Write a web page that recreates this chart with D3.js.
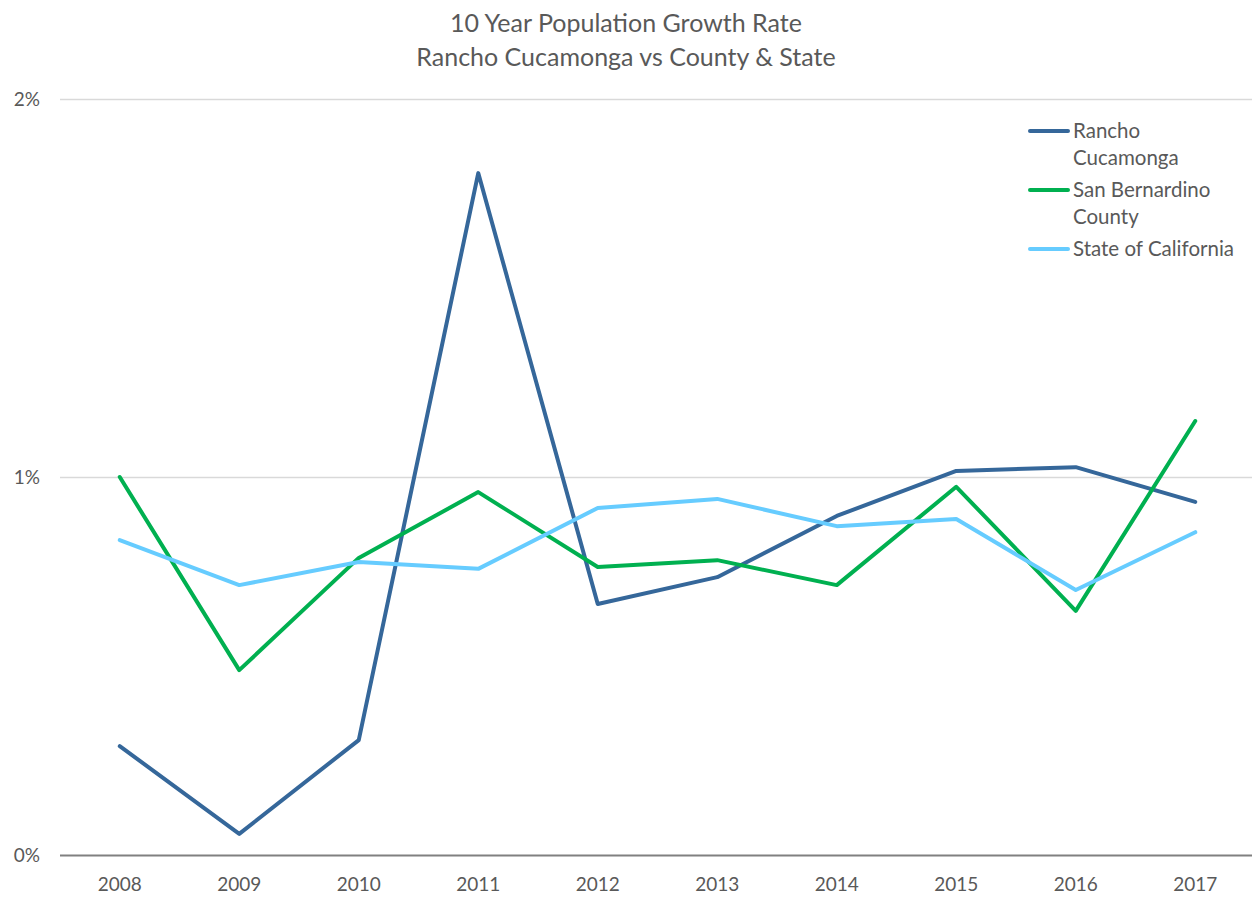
<!DOCTYPE html>
<html>
<head>
<meta charset="utf-8">
<script src="https://cdn.jsdelivr.net/npm/d3@7"></script>
<style>
    body { margin: 0; background: #fff; }
    text { font-family: "Gill Sans", Lato, "Open Sans", sans-serif; fill: #595959; }
    .chartTitle { font-size: 25px; }
    .tickText { font-size: 19px; }
    .legendText { font-size: 20.5px; }
</style>
</head>
<body>
<div id="chart" style="width:1252px;height:897px;">
    <svg width="1252" height="897"></svg>
</div>
<script>

// data
const years = ["2008", "2009", "2010", "2011", "2012", "2013", "2014", "2015", "2016", "2017"];
const rancho = [0.288, 0.056, 0.304, 1.804, 0.664, 0.735, 0.897, 1.016, 1.026, 0.934];
const sanBernardino = [1.0, 0.489, 0.786, 0.960, 0.762, 0.780, 0.714, 0.974, 0.646, 1.148];
const california = [0.833, 0.714, 0.775, 0.757, 0.918, 0.942, 0.870, 0.889, 0.701, 0.854];
const yTicks = [0, 1, 2];

const seriesList = [
    {name: ["Rancho", "Cucamonga"], values: rancho, color: "#35679a"},
    {name: ["San Bernardino", "County"], values: sanBernardino, color: "#00b050"},
    {name: ["State of California"], values: california, color: "#66ccff"}
];

function makeChart() {

    /**********************
    ***** BASIC SETUP *****
    **********************/

    const width = 1252;
    const height = 897;
    const margin = {top: 99, left: 60, right: -3, bottom: 42};

    const svg = d3.select("#chart").select("svg");

    /***********************
    ***** X & Y SCALES *****
    ***********************/

    const xScale = d3.scaleBand()
        .domain(years)
        .range([margin.left, width - margin.right]);

    const yScale = d3.scaleLinear()
        .domain([0, 2])
        .range([height - margin.bottom, margin.top]);

    const xPos = d => xScale(d) + xScale.bandwidth() / 2;

    /**********************
    ***** GRIDLINES *******
    **********************/

    svg.append("g")
        .attr("class", "grid")
        .selectAll("line")
        .data(yTicks)
        .enter()
        .append("line")
        .attr("x1", margin.left)
        .attr("x2", width)
        .attr("y1", d => yScale(d) + 0.5)
        .attr("y2", d => yScale(d) + 0.5)
        .attr("stroke", d => d === 0 ? "#808080" : "#d9d9d9")
        .attr("stroke-width", d => d === 0 ? 2 : 1.3);

    // y tick labels
    svg.append("g")
        .selectAll("text")
        .data(yTicks)
        .enter()
        .append("text")
        .attr("class", "tickText")
        .attr("x", 40)
        .attr("y", d => yScale(d))
        .attr("dy", "0.35em")
        .attr("text-anchor", "end")
        .text(d => d + "%");

    // x tick labels
    svg.append("g")
        .selectAll("text")
        .data(years)
        .enter()
        .append("text")
        .attr("class", "tickText")
        .attr("x", d => xPos(d))
        .attr("y", 891)
        .attr("text-anchor", "middle")
        .text(d => d);

    /****************
    ***** LINES *****
    ****************/

    const line = d3.line()
        .x((d, i) => xPos(years[i]))
        .y(d => yScale(d));

    svg.append("g")
        .selectAll("path")
        .data(seriesList)
        .enter()
        .append("path")
        .attr("d", d => line(d.values))
        .attr("fill", "none")
        .attr("stroke", d => d.color)
        .attr("stroke-width", 4)
        .attr("stroke-linejoin", "round")
        .attr("stroke-linecap", "round");

    /*****************
    ***** LEGEND *****
    *****************/

    const legend = svg.append("g").attr("id", "legend");
    const legendY = [131, 190, 249];

    seriesList.forEach((s, i) => {
        legend.append("line")
            .attr("x1", 1030)
            .attr("x2", 1068)
            .attr("y1", legendY[i])
            .attr("y2", legendY[i])
            .attr("stroke", s.color)
            .attr("stroke-width", 4)
            .attr("stroke-linecap", "round");

        s.name.forEach((t, j) => {
            legend.append("text")
                .attr("class", "legendText")
                .attr("x", 1073)
                .attr("y", legendY[i] + 7 + j * 27)
                .text(t);
        });
    });

    /****************
    ***** TITLE *****
    ****************/

    svg.selectAll(".chartTitle")
        .data(["10 Year Population Growth Rate", "Rancho Cucamonga vs County & State"])
        .enter()
        .append("text")
        .attr("class", "chartTitle")
        .attr("x", 626)
        .attr("y", (d, i) => 32 + i * 34)
        .attr("text-anchor", "middle")
        .text(d => d);
}

makeChart();
</script>
</body>
</html>
